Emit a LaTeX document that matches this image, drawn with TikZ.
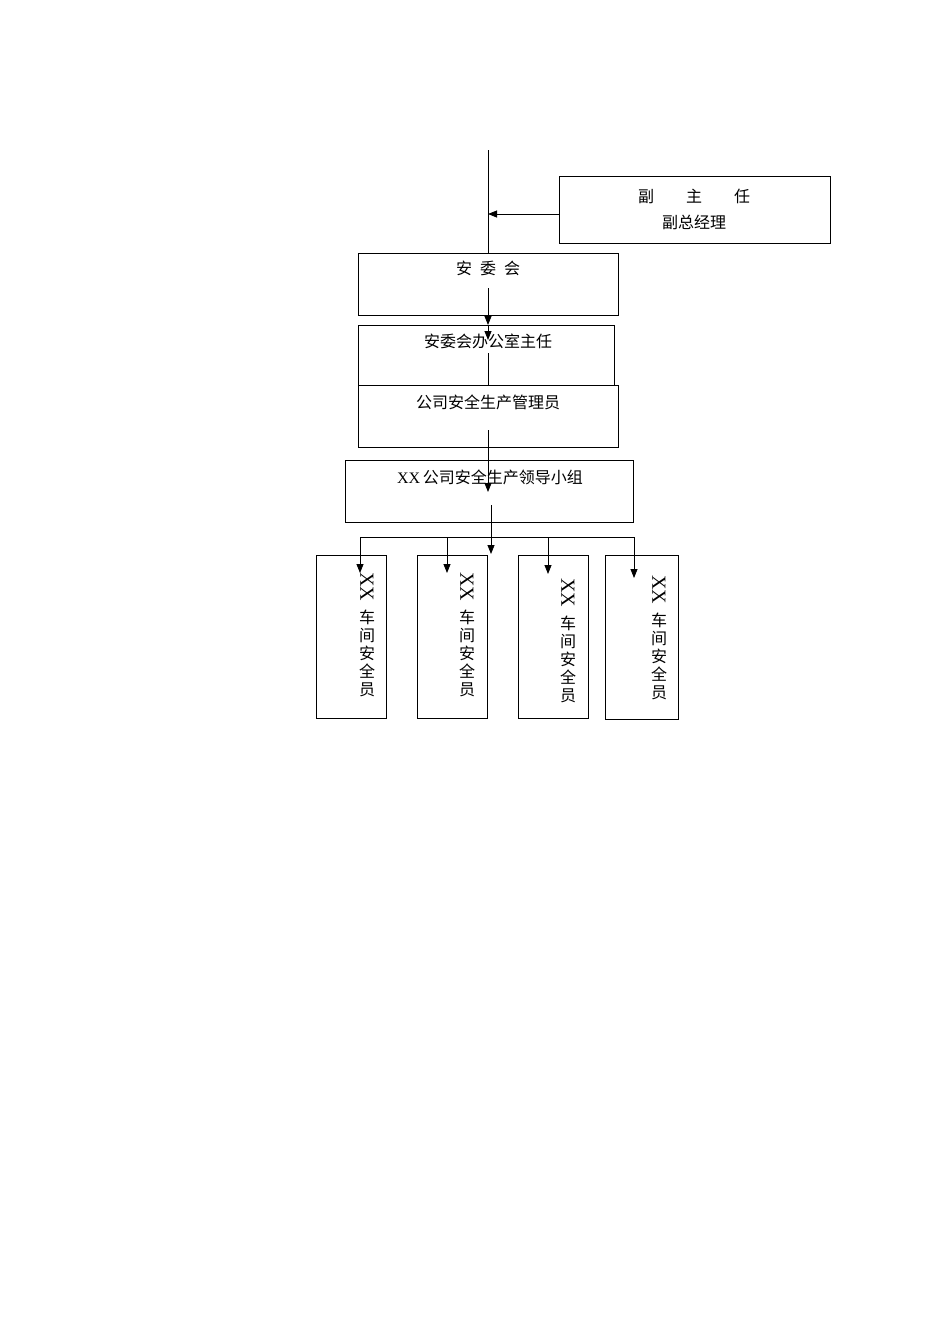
\documentclass[tikz,border=0pt]{standalone}
\usepackage{fontspec}
\setmainfont{Liberation Serif}
\newfontfamily\cjk{Noto Sans CJK SC}
\usetikzlibrary{arrows.meta}
\begin{document}
\begin{tikzpicture}[x=1pt,y=-1pt,
  box/.style={draw,line width=0.9pt,rectangle},
  lbl/.style={font=\cjk\fontsize{16}{18}\selectfont,inner sep=0pt},
  arr/.style={-{Triangle[length=9pt,width=7pt]},line width=0.8pt},
  ln/.style={line width=0.8pt}]
\useasboundingbox (0,0) rectangle (950,1344);
\draw[box] (559,176) rectangle (830,243);
\node[lbl] (t1) at (694,196) {副\hspace{2em}主\hspace{2em}任};
\node[lbl] (t1b) at (694,222) {副总经理};
\draw[box] (358,253) rectangle (618,315);
\node[lbl] at (488,268) {安\hspace{0.5em}委\hspace{0.5em}会};
\draw[box] (358,325) rectangle (614,385);
\node[lbl] at (488,341) {安委会办公室主任};
\draw[box] (358,385) rectangle (618,447);
\node[lbl] at (488,402) {公司安全生产管理员};
\draw[box] (345,460) rectangle (633,522);
\node[lbl] at (490,477) {\addfontfeature{}{\rmfamily XX}\,公司安全生产领导小组};
\coordinate (top) at (488,150);
\coordinate (j1) at (488,253);
\coordinate (s1) at (559,214);
\coordinate (e1) at (488,214);
\draw[ln] (top) -- (j1);
\draw[arr] (s1) -- (e1);
\coordinate (a1) at (488,288);
\coordinate (a1e) at (488,325);
\draw[arr] (a1) -- (a1e);
\draw[arr] (488,325) -- (488,340);
\draw[ln] (488,353) -- (488,385);
\draw[arr] (488,430) -- (488,492);
\draw[arr] (491,505) -- (491,554);
\draw[ln] (360,537) -- (634,537);
\foreach \x/\t in {360/573,447/573,548/574,634/578}{\draw[arr] (\x,537) -- (\x,\t);}
\foreach \a/\b/\c/\d in {316/555/386/718,417/555/487/718,518/555/588/718,605/555/678/719}{\draw[box] (\a,\b) rectangle (\c,\d);}
\foreach \x/\y in {367/572,467/572,568/578,659/575}{
  \node[font=\fontsize{20}{20}\selectfont,rotate=-90,inner sep=0pt,anchor=west] at (\x,\y) {XX};
  \node[lbl,anchor=north,align=center] at (\x,\y+38) {车\\间\\安\\全\\员};
}
\end{tikzpicture}
\end{document}
